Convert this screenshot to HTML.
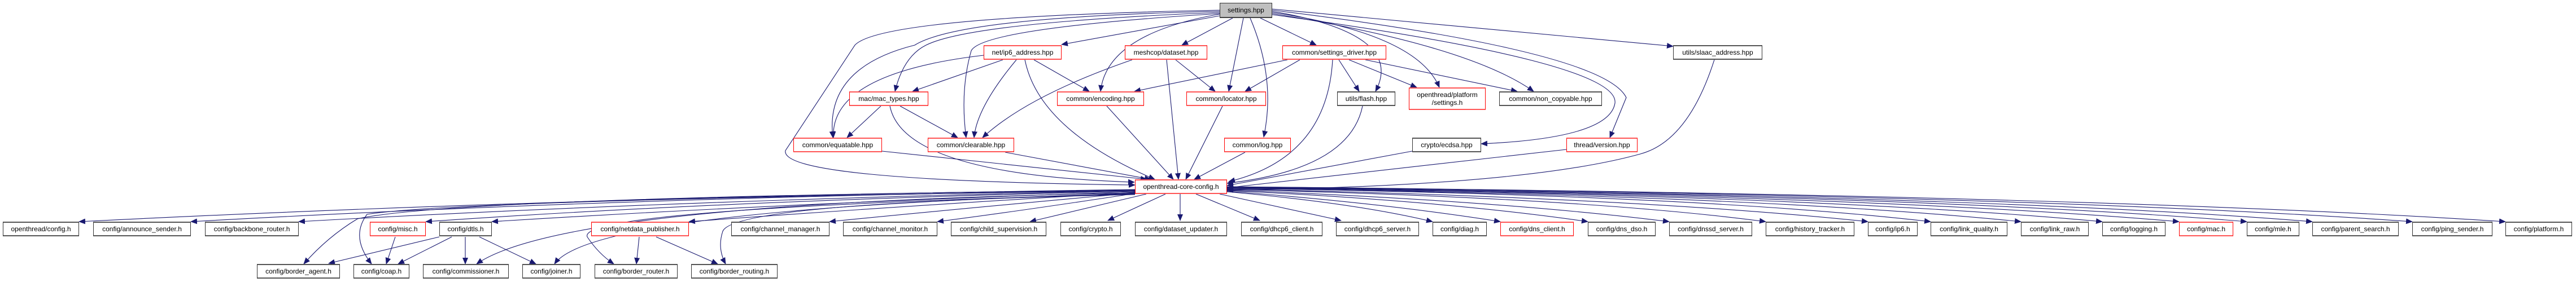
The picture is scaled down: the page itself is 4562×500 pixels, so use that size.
<!DOCTYPE html>
<html><head><meta charset="utf-8"><style>
html,body{margin:0;padding:0;background:#fff;}
#c{position:relative;width:4562px;height:500px;overflow:hidden;background:#fff;}
svg{position:absolute;left:0;top:0;}
.n{position:absolute;box-sizing:border-box;background:#fff;border:1px solid #333;border-top:2px solid #555;border-bottom:2px solid #555;display:flex;align-items:center;justify-content:center;text-align:center;font-family:"Liberation Sans",sans-serif;font-size:12px;line-height:14px;color:#000;white-space:nowrap;}
.r{border:1px solid #f00;border-top:2px solid #f55;border-bottom:2px solid #f55;}
.g{background:#bfbfbf;border:1px solid #333;border-bottom:2px solid #444;}
</style></head><body><div id="c">
<svg width="4562" height="500" viewBox="0 0 4562 500">
<defs><marker id="a" markerWidth="12" markerHeight="10" refX="11" refY="5" orient="auto" markerUnits="userSpaceOnUse"><path d="M0,0 L12,5 L0,10 Z" fill="#191970"/></marker></defs>
<g fill="none" stroke="#191970" stroke-width="1.1" marker-end="url(#a)">
<!-- from settings.hpp -->
<path d="M2160,28 L1880,79"/>
<path d="M2183,32 L2093,80"/>
<path d="M2232,32 L2331,80"/>
<path d="M2202,32 L2176,162"/>
<path d="M2214,32 Q2260,140 2238,243"/>
<path d="M2160,25 Q1960,60 1949,162"/>
<path d="M2160,22 Q1720,40 1640,80 Q1600,100 1585,162"/>
<path d="M2160,20 Q1700,30 1620,80 Q1460,120 1475,244"/>
<path d="M2160,24 Q1740,50 1720,90 Q1700,160 1711,244"/>
<path d="M2160,18 Q1560,30 1514,80 L1391,267 Q1380,320 2010,328"/>
<path d="M2253,20 Q2490,60 2436,162"/>
<path d="M2253,22 Q2510,60 2549,155"/>
<path d="M2253,24 Q2600,80 2716,162"/>
<path d="M2253,26 Q2870,110 2860,183 Q2850,245 2623,255"/>
<path d="M2253,18 Q2840,90 2880,173 L2851,244"/>
<path d="M2253,16 L2963,82"/>
<!-- from ip6_address -->
<path d="M1776,106 L1616,162"/>
<path d="M1742,98 Q1470,130 1476,244"/>
<path d="M1800,106 Q1730,190 1725,244"/>
<path d="M1831,106 L1929,162"/>
<path d="M1815,106 Q1840,230 2045,318"/>
<!-- from dataset -->
<path d="M2005,106 Q1820,170 1740,244"/>
<path d="M2082,106 L2152,162"/>
<path d="M2066,106 L2087,318"/>
<!-- from settings_driver -->
<path d="M2280,106 L2009,162"/>
<path d="M2302,106 L2205,162"/>
<path d="M2360,106 Q2350,280 2176,322"/>
<path d="M2371,106 L2407,162"/>
<path d="M2389,106 L2509,155"/>
<path d="M2418,106 L2687,162"/>
<!-- mac_types -->
<path d="M1560,188 L1500,244"/>
<path d="M1594,188 L1696,244"/>
<path d="M1576,188 Q1600,310 2009,323"/>
<!-- others to core -->
<path d="M1960,188 L2078,318"/>
<path d="M2165,188 L2100,318"/>
<path d="M1562,268 L2031,318"/>
<path d="M1780,270 L2038,318"/>
<path d="M2205,270 L2115,318"/>
<path d="M2413,188 Q2390,300 2173,325"/>
<path d="M2501,268 L2173,329"/>
<path d="M2774,265 L2173,333"/>
<path d="M3036,106 Q2990,250 2905,273 Q2700,330 2173,337"/>
<!-- core to bottom row left -->
<path d="M2010,336 Q1000,350 140,393"/>
<path d="M2010,337 Q1100,350 338,393"/>
<path d="M2010,338 Q1200,355 529,393"/>
<path d="M2010,339 Q1300,355 754,393"/>
<path d="M2010,340 Q1400,360 871,393"/>
<path d="M2010,341 Q1600,365 1220,393"/>
<path d="M2010,342 Q1700,370 1469,393"/>
<path d="M2010,343 Q1800,375 1660,393"/>
<path d="M2030,344 L1824,393"/>
<path d="M2064,344 L1962,391"/>
<path d="M2090,344 L2090,391"/>
<path d="M2118,344 L2231,391"/>
<!-- core to row2 -->
<path d="M2010,337 Q800,350 633,388 Q580,420 538,468"/>
<path d="M2010,338 Q800,355 650,380 Q620,420 658,468"/>
<path d="M2010,342 Q1000,360 844,468"/>
<path d="M2010,343 Q1050,370 982,468"/>
<path d="M2010,344 Q1020,370 1040,420 Q1060,450 1087,468"/>
<path d="M2010,345 Q1300,360 1280,410 Q1270,440 1285,468"/>
<!-- dtls etc -->
<path d="M778,420 L582,467"/>
<path d="M800,420 L705,468"/>
<path d="M824,420 L824,468"/>
<path d="M849,420 L949,468"/>
<path d="M700,420 L684,468"/>
<path d="M1132,420 L1127,468"/>
<path d="M1162,420 L1271,468"/>
<!-- core to bottom row right -->
<path d="M2160,344 L2375,391"/>
<path d="M2173,340 Q2400,360 2537,393"/>
<path d="M2173,339 Q2450,360 2657,393"/>
<path d="M2173,338 Q2550,355 2812,393"/>
<path d="M2173,337 Q2650,355 2956,393"/>
<path d="M2173,336 Q2800,350 3127,393"/>
<path d="M2173,335 Q2900,350 3308,393"/>
<path d="M2173,334 Q3000,345 3419,393"/>
<path d="M2173,334 Q3100,345 3579,393"/>
<path d="M2173,333 Q3200,345 3723,393"/>
<path d="M2173,333 Q3300,345 3859,393"/>
<path d="M2173,332 Q3400,345 3979,393"/>
<path d="M2173,332 Q3500,345 4095,393"/>
<path d="M2173,331 Q3600,345 4272,393"/>
<path d="M2173,331 Q3700,345 4437,393"/>
</g></svg>
<div class="n g" style="left:2160px;top:5px;width:93px;height:27px">settings.hpp</div>
<div class="n r" style="left:1742px;top:80px;width:138px;height:26px">net/ip6_address.hpp</div>
<div class="n r" style="left:1992px;top:80px;width:146px;height:26px">meshcop/dataset.hpp</div>
<div class="n r" style="left:2271px;top:80px;width:184px;height:26px">common/settings_driver.hpp</div>
<div class="n" style="left:2963px;top:80px;width:158px;height:26px">utils/slaac_address.hpp</div>
<div class="n r" style="left:1504px;top:162px;width:140px;height:26px">mac/mac_types.hpp</div>
<div class="n r" style="left:1872px;top:162px;width:154px;height:26px">common/encoding.hpp</div>
<div class="n r" style="left:2101px;top:162px;width:141px;height:26px">common/locator.hpp</div>
<div class="n" style="left:2368px;top:162px;width:103px;height:26px">utils/flash.hpp</div>
<div class="n r" style="left:2495px;top:155px;width:136px;height:40px">openthread/platform<br>/settings.h</div>
<div class="n" style="left:2655px;top:162px;width:182px;height:26px">common/non_copyable.hpp</div>
<div class="n r" style="left:1405px;top:244px;width:157px;height:26px">common/equatable.hpp</div>
<div class="n r" style="left:1643px;top:244px;width:153px;height:26px">common/clearable.hpp</div>
<div class="n r" style="left:2168px;top:244px;width:118px;height:26px">common/log.hpp</div>
<div class="n" style="left:2501px;top:244px;width:122px;height:26px">crypto/ecdsa.hpp</div>
<div class="n r" style="left:2774px;top:244px;width:126px;height:26px">thread/version.hpp</div>
<div class="n r" style="left:2010px;top:318px;width:163px;height:26px">openthread-core-config.h</div>
<div class="n" style="left:5px;top:393px;width:135px;height:26px">openthread/config.h</div>
<div class="n" style="left:165px;top:393px;width:173px;height:26px">config/announce_sender.h</div>
<div class="n" style="left:363px;top:393px;width:166px;height:26px">config/backbone_router.h</div>
<div class="n r" style="left:655px;top:393px;width:99px;height:26px">config/misc.h</div>
<div class="n" style="left:778px;top:393px;width:93px;height:26px">config/dtls.h</div>
<div class="n r" style="left:1047px;top:393px;width:173px;height:26px">config/netdata_publisher.h</div>
<div class="n" style="left:1295px;top:393px;width:174px;height:26px">config/channel_manager.h</div>
<div class="n" style="left:1493px;top:393px;width:167px;height:26px">config/channel_monitor.h</div>
<div class="n" style="left:1684px;top:393px;width:169px;height:26px">config/child_supervision.h</div>
<div class="n" style="left:1878px;top:393px;width:107px;height:26px">config/crypto.h</div>
<div class="n" style="left:2010px;top:393px;width:163px;height:26px">config/dataset_updater.h</div>
<div class="n" style="left:2198px;top:393px;width:144px;height:26px">config/dhcp6_client.h</div>
<div class="n" style="left:2366px;top:393px;width:147px;height:26px">config/dhcp6_server.h</div>
<div class="n" style="left:2537px;top:393px;width:96px;height:26px">config/diag.h</div>
<div class="n r" style="left:2657px;top:393px;width:130px;height:26px">config/dns_client.h</div>
<div class="n" style="left:2812px;top:393px;width:120px;height:26px">config/dns_dso.h</div>
<div class="n" style="left:2956px;top:393px;width:147px;height:26px">config/dnssd_server.h</div>
<div class="n" style="left:3127px;top:393px;width:157px;height:26px">config/history_tracker.h</div>
<div class="n" style="left:3308px;top:393px;width:88px;height:26px">config/ip6.h</div>
<div class="n" style="left:3419px;top:393px;width:136px;height:26px">config/link_quality.h</div>
<div class="n" style="left:3579px;top:393px;width:120px;height:26px">config/link_raw.h</div>
<div class="n" style="left:3723px;top:393px;width:112px;height:26px">config/logging.h</div>
<div class="n r" style="left:3859px;top:393px;width:96px;height:26px">config/mac.h</div>
<div class="n" style="left:3979px;top:393px;width:93px;height:26px">config/mle.h</div>
<div class="n" style="left:4095px;top:393px;width:153px;height:26px">config/parent_search.h</div>
<div class="n" style="left:4272px;top:393px;width:142px;height:26px">config/ping_sender.h</div>
<div class="n" style="left:4437px;top:393px;width:118px;height:26px">config/platform.h</div>
<div class="n" style="left:455px;top:468px;width:147px;height:26px">config/border_agent.h</div>
<div class="n" style="left:626px;top:468px;width:99px;height:26px">config/coap.h</div>
<div class="n" style="left:749px;top:468px;width:152px;height:26px">config/commissioner.h</div>
<div class="n" style="left:925px;top:468px;width:103px;height:26px">config/joiner.h</div>
<div class="n" style="left:1053px;top:468px;width:147px;height:26px">config/border_router.h</div>
<div class="n" style="left:1224px;top:468px;width:153px;height:26px">config/border_routing.h</div>
</div></body></html>
